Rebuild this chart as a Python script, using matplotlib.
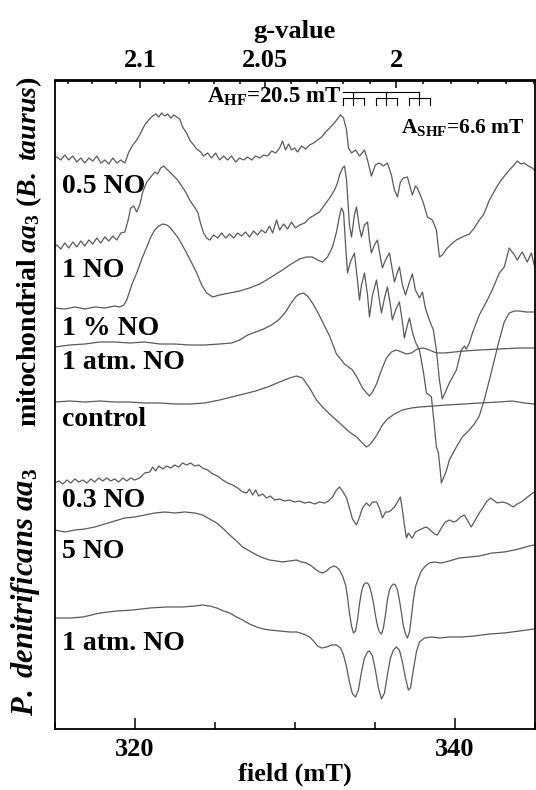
import matplotlib
matplotlib.use("Agg")
import matplotlib.pyplot as plt
from matplotlib.ticker import FixedLocator, MultipleLocator, FuncFormatter

plt.rcParams["font.family"] = ["Liberation Serif", "DejaVu Serif"]
plt.rcParams["font.weight"] = "bold"
plt.rcParams["mathtext.fontset"] = "custom"
plt.rcParams["mathtext.rm"] = "Liberation Serif:bold"
plt.rcParams["mathtext.it"] = "Liberation Serif:bold:italic"
plt.rcParams["mathtext.bf"] = "Liberation Serif:bold"

# g * B (mT) at 9.415 GHz, g = GB / B
GB = 672.68

# EPR spectra, (field mT, intensity arb. units incl. stacking offset)
taurus_05no = [
    (315.01, 570), (315.13, 571), (315.38, 568), (315.63, 573), (315.88, 568), (316.13, 572),
    (316.38, 566), (316.63, 570), (316.88, 565), (317.13, 570), (317.38, 567), (317.63, 572),
    (317.88, 565), (318.13, 568), (318.38, 564), (318.63, 570), (318.88, 565), (319.13, 568),
    (319.38, 565), (319.63, 576), (319.88, 583), (320.12, 588), (320.37, 595), (320.62, 603),
    (320.87, 608), (321.12, 612), (321.31, 614), (321.50, 611), (321.68, 615), (321.87, 612),
    (322.06, 614), (322.25, 610), (322.43, 613), (322.62, 611), (322.81, 609), (322.99, 601),
    (323.24, 595), (323.43, 588), (323.68, 583), (323.87, 579), (324.12, 576), (324.30, 572),
    (324.55, 575), (324.80, 570), (325.05, 575), (325.30, 568), (325.55, 572), (325.80, 568),
    (326.05, 572), (326.30, 566), (326.55, 570), (326.80, 568), (327.05, 571), (327.30, 568),
    (327.55, 572), (327.80, 570), (328.05, 573), (328.30, 572), (328.55, 577), (328.80, 575),
    (329.05, 580), (329.23, 587), (329.42, 578), (329.61, 584), (329.79, 578), (329.98, 580),
    (330.17, 576), (330.42, 582), (330.67, 579), (330.92, 583), (331.17, 585), (331.42, 588),
    (331.67, 591), (331.92, 596), (332.17, 600), (332.41, 604), (332.66, 609), (332.85, 613),
    (333.04, 610), (333.23, 598), (333.35, 580), (333.54, 575), (333.79, 578), (334.04, 572),
    (334.35, 578), (334.54, 568), (334.78, 552), (335.03, 563), (335.28, 565), (335.53, 562),
    (335.78, 565), (336.03, 553), (336.22, 538), (336.41, 531), (336.59, 546), (336.78, 550),
    (337.03, 551), (337.22, 540), (337.34, 533), (337.53, 542), (337.65, 540), (337.84, 533),
    (338.03, 525), (338.28, 511), (338.59, 508), (338.84, 498), (339.03, 471), (339.21, 473),
    (339.46, 479), (339.78, 484), (340.09, 488), (340.46, 491), (340.90, 494), (341.21, 500),
    (341.52, 508), (341.77, 513), (341.96, 520), (342.15, 528), (342.40, 535), (342.64, 542),
    (342.89, 548), (343.14, 553), (343.39, 558), (343.64, 562), (343.89, 567), (344.14, 564),
    (344.33, 565), (344.58, 562), (344.83, 560), (344.95, 558),
]
taurus_1no = [
    (315.01, 481), (315.13, 483), (315.38, 479), (315.63, 485), (315.88, 480), (316.13, 486),
    (316.38, 481), (316.63, 487), (316.88, 482), (317.13, 488), (317.38, 484), (317.63, 490),
    (317.88, 485), (318.13, 491), (318.38, 487), (318.63, 492), (318.88, 488), (319.13, 495),
    (319.38, 496), (319.56, 506), (319.75, 520), (319.94, 522), (320.12, 516), (320.31, 523),
    (320.50, 536), (320.75, 546), (321.00, 551), (321.25, 556), (321.43, 554), (321.62, 560),
    (321.81, 562), (322.00, 559), (322.18, 556), (322.43, 552), (322.68, 548), (322.93, 542),
    (323.18, 536), (323.43, 528), (323.68, 522), (323.93, 516), (324.12, 504), (324.30, 495),
    (324.49, 490), (324.68, 488), (324.93, 493), (325.18, 490), (325.43, 495), (325.68, 490),
    (325.93, 494), (326.18, 490), (326.43, 495), (326.67, 492), (326.92, 496), (327.17, 491),
    (327.42, 497), (327.67, 493), (327.92, 498), (328.17, 495), (328.42, 502), (328.61, 495),
    (328.86, 508), (329.05, 498), (329.30, 504), (329.54, 499), (329.79, 506), (330.04, 500),
    (330.29, 503), (330.61, 505), (330.92, 510), (331.23, 513), (331.54, 516), (331.85, 523),
    (332.17, 530), (332.48, 538), (332.66, 545), (332.79, 553), (332.98, 560), (333.10, 562),
    (333.23, 548), (333.41, 503), (333.54, 491), (333.72, 513), (333.85, 521), (334.04, 500),
    (334.16, 491), (334.35, 503), (334.54, 506), (334.66, 488), (334.78, 475), (334.97, 483),
    (335.16, 488), (335.35, 470), (335.47, 460), (335.66, 468), (335.91, 475), (336.09, 458),
    (336.22, 446), (336.41, 456), (336.53, 461), (336.72, 443), (336.91, 433), (337.16, 446),
    (337.34, 454), (337.53, 438), (337.78, 430), (337.97, 436), (338.15, 420), (338.40, 408),
    (338.65, 398), (338.84, 378), (339.03, 348), (339.21, 329), (339.40, 336), (339.65, 345),
    (340.09, 358), (340.40, 378), (340.59, 382), (340.71, 379), (340.90, 385), (341.09, 395),
    (341.52, 413), (341.96, 426), (342.33, 438), (342.77, 455), (343.08, 461), (343.39, 480),
    (343.71, 473), (343.89, 468), (344.20, 476), (344.52, 466), (344.77, 475), (344.95, 463),
]
taurus_1pct = [
    (315.01, 420), (315.63, 419), (316.26, 421), (316.88, 419), (317.50, 421), (318.13, 420),
    (318.75, 422), (319.06, 421), (319.31, 423), (319.50, 428), (319.81, 443), (320.12, 455),
    (320.44, 469), (320.75, 481), (321.00, 491), (321.25, 498), (321.50, 502), (321.75, 504),
    (322.00, 503), (322.18, 501), (322.43, 496), (322.68, 491), (322.93, 484), (323.24, 475),
    (323.56, 465), (323.87, 455), (324.18, 443), (324.49, 435), (324.87, 431), (325.30, 433),
    (325.93, 435), (326.55, 437), (327.17, 440), (327.80, 444), (328.23, 448), (328.73, 453),
    (329.23, 458), (329.67, 463), (330.29, 469), (330.73, 471), (331.10, 471), (331.42, 468),
    (331.73, 466), (332.04, 471), (332.35, 481), (332.60, 496), (332.79, 512), (332.91, 520),
    (333.04, 516), (333.17, 483), (333.29, 455), (333.47, 466), (333.72, 475), (333.91, 448),
    (334.04, 428), (334.16, 443), (334.35, 455), (334.54, 433), (334.66, 411), (334.85, 433),
    (335.10, 448), (335.28, 428), (335.41, 415), (335.60, 430), (335.78, 441), (335.97, 423),
    (336.09, 408), (336.34, 420), (336.53, 426), (336.72, 406), (336.84, 390), (337.03, 403),
    (337.16, 410), (337.34, 396), (337.53, 386), (337.78, 378), (338.03, 356), (338.22, 335),
    (338.40, 333), (338.53, 331), (338.71, 303), (338.84, 281), (338.96, 276), (339.09, 256),
    (339.15, 245), (339.28, 250), (339.46, 257), (339.65, 268), (340.09, 281), (340.46, 291),
    (340.90, 298), (341.21, 304), (341.52, 312), (341.83, 328), (342.15, 348), (342.46, 368),
    (342.77, 388), (343.08, 406), (343.39, 415), (343.71, 417), (344.02, 417), (344.45, 416),
    (344.95, 416),
]
taurus_1atm = [
    (315.01, 381), (315.94, 383), (316.88, 384), (317.82, 386), (318.75, 386), (319.69, 385),
    (320.62, 386), (321.56, 384), (322.50, 384), (323.43, 383), (324.37, 383), (325.30, 384),
    (326.05, 385), (326.55, 388), (327.05, 393), (327.55, 396), (328.05, 399), (328.55, 403),
    (329.05, 409), (329.42, 416), (329.73, 424), (330.04, 431), (330.29, 434), (330.54, 435),
    (330.79, 432), (331.10, 425), (331.42, 416), (331.73, 406), (332.17, 392), (332.60, 374),
    (333.10, 364), (333.60, 358), (333.91, 350), (334.22, 340), (334.54, 334), (334.66, 332),
    (334.85, 336), (335.10, 344), (335.41, 358), (335.72, 370), (336.03, 376), (336.34, 378),
    (336.66, 376), (336.97, 374), (337.28, 375), (337.65, 379), (338.03, 380), (338.40, 378),
    (338.84, 375), (339.34, 375), (339.96, 376), (340.59, 377), (341.52, 378), (342.77, 379),
    (344.02, 380), (344.95, 380),
]
taurus_control = [
    (315.01, 326), (315.94, 327), (316.88, 326), (317.82, 327), (318.75, 326), (319.69, 326),
    (320.62, 325), (321.56, 325), (322.50, 324), (323.43, 324), (324.37, 325), (325.30, 328),
    (326.05, 331), (326.80, 334), (327.55, 337), (328.30, 341), (329.05, 346), (329.67, 350),
    (330.11, 352), (330.48, 350), (330.92, 340), (331.35, 328), (331.73, 321), (332.17, 314),
    (332.79, 305), (333.41, 296), (333.85, 291), (334.22, 285), (334.47, 281), (334.66, 283),
    (334.91, 288), (335.16, 294), (335.47, 303), (335.78, 309), (336.22, 314), (336.72, 318),
    (337.28, 320), (337.78, 321), (338.71, 322), (339.46, 323), (340.59, 324), (341.52, 325),
    (342.77, 326), (343.58, 327), (344.33, 325), (344.95, 324),
]
pden_03no = [
    (315.01, 245), (315.26, 247), (315.51, 244), (315.76, 248), (316.01, 245), (316.26, 249),
    (316.51, 246), (316.76, 248), (317.01, 245), (317.26, 249), (317.50, 246), (317.75, 250),
    (318.00, 247), (318.25, 250), (318.50, 247), (318.75, 249), (319.00, 246), (319.25, 250),
    (319.50, 247), (319.75, 250), (320.00, 248), (320.31, 250), (320.62, 255), (320.94, 256),
    (321.12, 261), (321.31, 257), (321.50, 262), (321.75, 259), (322.00, 262), (322.25, 260),
    (322.50, 263), (322.74, 261), (322.99, 265), (323.24, 263), (323.49, 265), (323.74, 262),
    (323.99, 263), (324.24, 260), (324.55, 258), (324.87, 254), (325.18, 252), (325.49, 248),
    (325.80, 245), (326.11, 243), (326.43, 240), (326.74, 236), (326.99, 235), (327.17, 239),
    (327.36, 233), (327.55, 238), (327.74, 232), (327.99, 234), (328.23, 230), (328.48, 232),
    (328.73, 228), (329.05, 229), (329.36, 227), (329.67, 228), (329.98, 226), (330.29, 227),
    (330.61, 225), (330.92, 226), (331.23, 224), (331.54, 226), (331.85, 225), (332.10, 227),
    (332.35, 231), (332.60, 238), (332.79, 241), (332.98, 237), (333.23, 230), (333.41, 220),
    (333.60, 209), (333.85, 203), (334.04, 211), (334.22, 220), (334.47, 225), (334.66, 222),
    (334.85, 226), (335.10, 226), (335.28, 220), (335.47, 210), (335.66, 216), (335.85, 216),
    (336.03, 218), (336.22, 221), (336.41, 226), (336.59, 231), (336.72, 218), (336.84, 203),
    (336.97, 190), (337.09, 195), (337.22, 192), (337.34, 190), (337.53, 196), (337.78, 198),
    (338.03, 200), (338.22, 201), (338.46, 198), (338.71, 194), (338.90, 193), (339.15, 200),
    (339.40, 206), (339.65, 208), (339.90, 206), (340.09, 207), (340.34, 211), (340.59, 213),
    (340.84, 206), (341.02, 201), (341.27, 208), (341.52, 215), (341.77, 221), (341.96, 226),
    (342.21, 230), (342.40, 228), (342.64, 225), (342.96, 226), (343.21, 225), (343.45, 223),
    (343.64, 221), (343.89, 224), (344.14, 226), (344.45, 230), (344.70, 233), (344.95, 236),
]
pden_5no = [
    (315.01, 198), (315.63, 196), (316.26, 198), (316.88, 199), (317.50, 201), (318.13, 204),
    (318.75, 207), (319.38, 210), (320.00, 211), (320.62, 213), (321.25, 215), (321.87, 216),
    (322.50, 215), (323.12, 216), (323.74, 215), (324.24, 213), (324.68, 209), (325.12, 205),
    (325.55, 199), (325.93, 193), (326.36, 187), (326.74, 181), (327.17, 177), (327.61, 173),
    (328.05, 170), (328.42, 168), (328.86, 167), (329.23, 166), (329.67, 167), (330.11, 168),
    (330.42, 166), (330.73, 165), (331.04, 162), (331.35, 158), (331.54, 156), (331.73, 155),
    (331.98, 157), (332.17, 160), (332.41, 162), (332.60, 161), (332.79, 158), (332.98, 152),
    (333.17, 143), (333.29, 131), (333.41, 115), (333.54, 102), (333.66, 95), (333.79, 97),
    (333.91, 108), (334.04, 124), (334.16, 136), (334.29, 143), (334.41, 145), (334.54, 145),
    (334.66, 142), (334.78, 135), (334.91, 125), (335.03, 113), (335.16, 102), (335.28, 96),
    (335.41, 94), (335.53, 100), (335.66, 113), (335.78, 128), (335.91, 138), (336.03, 142),
    (336.16, 144), (336.28, 143), (336.41, 138), (336.53, 128), (336.66, 115), (336.78, 102),
    (336.91, 94), (337.03, 90), (337.16, 96), (337.28, 111), (337.40, 128), (337.53, 141),
    (337.72, 150), (337.90, 157), (338.15, 162), (338.40, 165), (338.71, 166), (339.15, 165),
    (339.65, 167), (340.27, 170), (340.90, 171), (341.52, 172), (342.33, 175), (343.08, 176),
    (343.71, 178), (344.20, 180), (344.64, 182), (344.95, 183),
]
pden_1atm = [
    (315.01, 110), (315.94, 110), (316.76, 111), (317.82, 115), (318.88, 117), (319.88, 118),
    (320.94, 120), (322.00, 121), (322.99, 121), (323.74, 122), (324.24, 123), (324.68, 122),
    (325.12, 120), (325.55, 117), (325.93, 115), (326.36, 111), (326.74, 108), (327.17, 104),
    (327.61, 101), (328.05, 99), (328.42, 98), (329.05, 97), (329.67, 96), (330.11, 96),
    (330.54, 94), (330.92, 91), (331.17, 87), (331.42, 82), (331.67, 80), (331.98, 81),
    (332.29, 83), (332.60, 83), (332.85, 80), (333.04, 73), (333.23, 61), (333.41, 46),
    (333.60, 34), (333.79, 31), (333.97, 38), (334.16, 56), (334.35, 70), (334.54, 76),
    (334.66, 77), (334.85, 72), (335.03, 58), (335.22, 40), (335.41, 29), (335.60, 35),
    (335.78, 53), (335.97, 70), (336.16, 78), (336.34, 81), (336.53, 78), (336.72, 66),
    (336.91, 50), (337.09, 38), (337.22, 40), (337.40, 58), (337.59, 76), (337.78, 86),
    (338.09, 90), (338.53, 91), (339.03, 90), (339.65, 91), (340.40, 91), (341.21, 92),
    (342.15, 94), (343.08, 95), (344.02, 97), (344.95, 99),
]

spectra = [taurus_05no, taurus_1no, taurus_1pct, taurus_1atm, taurus_control,
           pden_03no, pden_5no, pden_1atm]
labels = ["0.5 NO", "1 NO", "1 % NO", "1 atm. NO", "control",
          "0.3 NO", "5 NO", "1 atm. NO"]
label_y = [535, 451, 393, 359, 302, 221, 170, 78]

# hyperfine stick diagram (mT)
HF_CENTER, A_HF, A_SHF = 333.66, 2.05, 0.66

fig = plt.figure(figsize=(5.36, 7.9), dpi=100)
ax = fig.add_axes([54.7 / 536, 1 - 728.7 / 790, 480.3 / 536, 648.2 / 790])

for spec in spectra:
    b, s = zip(*spec)
    ax.plot(b, s, color="#5a5a5a", lw=0.9)

for lab, y in zip(labels, label_y):
    ax.text(315.45, y, lab, fontsize=20, fontweight="bold", va="baseline", ha="left")

# stick diagram
y_top, y_mid, y_bot = 636, 630.5, 623
centers = [HF_CENTER + i * A_HF for i in range(3)]
ax.plot([centers[0] - A_SHF, centers[-1]], [y_top, y_top], color="k", lw=0.8)
for c in centers:
    ax.plot([c, c], [y_top, y_bot], color="k", lw=0.8)
    ax.plot([c - A_SHF, c + A_SHF], [y_mid, y_mid], color="k", lw=0.8)
    for d in (-A_SHF, A_SHF):
        ax.plot([c + d, c + d], [y_mid, y_bot], color="k", lw=0.8)
ax.text(324.49, 625, r"A$_{\mathrm{HF}}$=20.5 mT", fontsize=16.5, va="baseline", ha="left")
ax.text(336.6, 595, r"A$_{\mathrm{SHF}}$=6.6 mT", fontsize=15.5, va="baseline", ha="left")

ax.set_xlim(315, 345)
ax.set_ylim(-0.7, 647.5)
ax.set_yticks([])
ax.xaxis.set_major_locator(FixedLocator([320, 340]))
ax.xaxis.set_minor_locator(MultipleLocator(5))
ax.tick_params(axis="x", which="major", direction="in", length=8, width=1.1,
               labelsize=19, pad=7)
ax.tick_params(axis="x", which="minor", direction="in", length=5, width=1.1)
ax.set_xlabel("field (mT)", fontsize=19, fontweight="bold", labelpad=1)
for sp in ax.spines.values():
    sp.set_linewidth(1.3)

sec = ax.secondary_xaxis("top", functions=(lambda b: GB / b, lambda g: GB / g))
sec.xaxis.set_major_locator(FixedLocator([2.1, 2.05, 2.0]))
sec.xaxis.set_minor_locator(MultipleLocator(0.01))
sec.xaxis.set_major_formatter(FuncFormatter(lambda v, p: f"{v:g}"))
sec.tick_params(axis="x", which="major", direction="in", length=6, width=1.1,
                labelsize=19, pad=6)
sec.tick_params(axis="x", which="minor", direction="in", length=3.2, width=1.1)
sec.spines["top"].set_linewidth(1.3)
sec.set_xlabel("g-value", fontsize=19, fontweight="bold", labelpad=8)

fig.text(29 / 536, 1 - 252 / 790, r"mitochondrial $aa_3$ ($B.\ taurus$)",
         rotation=90, ha="center", va="center", fontsize=20, fontweight="bold")
fig.text(26 / 536, 1 - 592 / 790, r"$P.$ $denitrificans$ $aa_3$",
         rotation=90, ha="center", va="center", fontsize=22)

fig.savefig("out.png", dpi=100)
